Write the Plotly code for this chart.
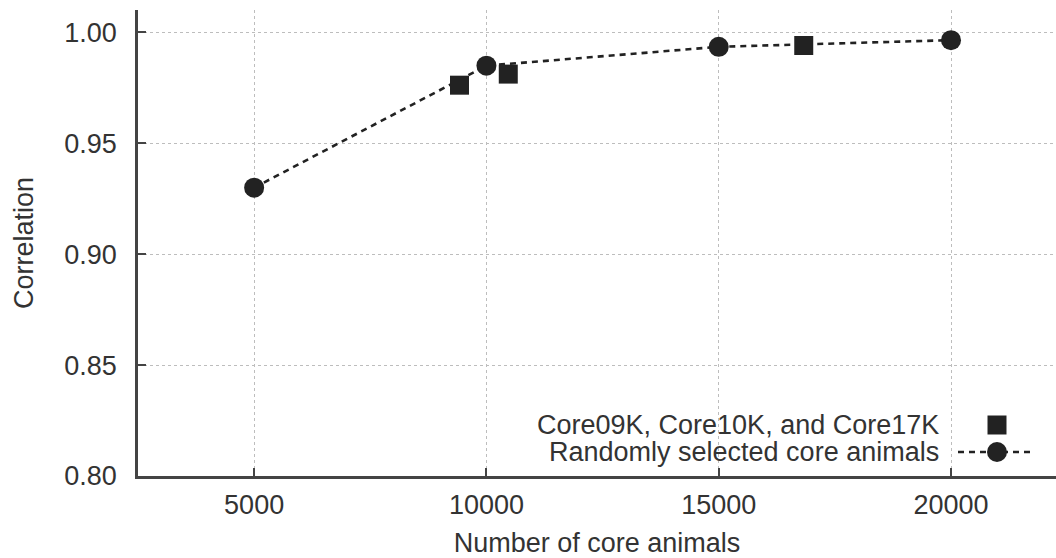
import plotly.graph_objects as go

# Data
random_n = [5000, 10000, 15000, 20000]
random_corr = [0.930, 0.985, 0.9935, 0.9965]

core_names = ["Core09K", "Core10K", "Core17K"]
core_n = [9420, 10470, 16830]
core_corr = [0.9762, 0.9812, 0.9941]

x_ticks = [5000, 10000, 15000, 20000]
y_ticks = [0.80, 0.85, 0.90, 0.95, 1.00]
y_ticklabels = ["0.80", "0.85", "0.90", "0.95", "1.00"]

legend_labels = ["Core09K, Core10K, and Core17K", "Randomly selected core animals"]

FONT = "Liberation Sans, Arial, Helvetica, sans-serif"
TXT = "#333333"
AX = "#444444"
FS = 27

fig = go.Figure()

fig.add_trace(go.Scatter(
    x=random_n, y=random_corr, mode="lines+markers",
    line=dict(color="#222222", width=2.6, dash="6px,5px"),
    marker=dict(symbol="circle", size=20, color="#222222"),
    showlegend=False, name=legend_labels[1],
))
fig.add_trace(go.Scatter(
    x=core_n, y=core_corr, mode="markers", text=core_names,
    marker=dict(symbol="square", size=19, color="#222222"),
    showlegend=False, name=legend_labels[0],
))

L, R, T, B = 138, 0, 10, 82
W, H = 1056, 558
pw, ph = W - L - R, H - T - B


def px2paper_x(px):
    return (px - L) / pw


def px2paper_y(py):
    return (H - B - py) / ph


row_y = [425, 452]
text_right = 941
sym_x = 997

annotations = []
for lab, yy in zip(legend_labels, row_y):
    annotations.append(dict(
        x=px2paper_x(text_right), y=px2paper_y(yy), xref="paper", yref="paper",
        text=lab, showarrow=False, xanchor="right", yanchor="middle",
        font=dict(family=FONT, size=FS, color=TXT),
    ))

shapes = [
    # legend dashed line
    dict(type="line", xref="paper", yref="paper",
         x0=px2paper_x(958), x1=px2paper_x(1035),
         y0=px2paper_y(row_y[1]), y1=px2paper_y(row_y[1]),
         line=dict(color="#222222", width=2.6, dash="6px,5px"), layer="above"),
    # legend square
    dict(type="rect", xref="paper", yref="paper",
         xsizemode="pixel", ysizemode="pixel",
         xanchor=px2paper_x(sym_x), yanchor=px2paper_y(row_y[0]),
         x0=-9.5, x1=9.5, y0=-9.5, y1=9.5,
         fillcolor="#222222", line=dict(width=0), layer="above"),
    # legend circle
    dict(type="circle", xref="paper", yref="paper",
         xsizemode="pixel", ysizemode="pixel",
         xanchor=px2paper_x(sym_x), yanchor=px2paper_y(row_y[1]),
         x0=-10, x1=10, y0=-10, y1=10,
         fillcolor="#222222", line=dict(width=0), layer="above"),
]

fig.update_layout(
    width=W, height=H,
    margin=dict(l=L, r=R, t=T, b=B, pad=0, autoexpand=False),
    paper_bgcolor="white", plot_bgcolor="white",
    font=dict(family=FONT, size=FS, color=TXT),
    annotations=annotations, shapes=shapes,
    xaxis=dict(
        range=[2500, 22260], tickvals=x_ticks, ticktext=[str(v) for v in x_ticks],
        showline=True, linecolor=AX, linewidth=2.5, mirror=False,
        ticks="inside", ticklen=8, tickwidth=1.5, tickcolor=AX,
        showgrid=True, gridcolor="#bdbdbd", gridwidth=1, griddash="dot",
        zeroline=False, ticklabelstandoff=3, automargin=False,
        title=dict(text="Number of core animals", standoff=26,
                   font=dict(family=FONT, size=FS, color=TXT)),
        tickfont=dict(family=FONT, size=FS, color=TXT),
    ),
    yaxis=dict(
        range=[0.80, 1.0101], tickvals=y_ticks, ticktext=y_ticklabels,
        showline=True, linecolor=AX, linewidth=2.5, mirror=False,
        ticks="inside", ticklen=8, tickwidth=1.5, tickcolor=AX,
        showgrid=True, gridcolor="#bdbdbd", gridwidth=1, griddash="dot",
        zeroline=False, ticklabelstandoff=13, automargin=False,
        title=dict(text="Correlation", standoff=23,
                   font=dict(family=FONT, size=FS, color=TXT)),
        tickfont=dict(family=FONT, size=FS, color=TXT),
    ),
)

fig.write_html("out.html", config={"displayModeBar": False},
               post_script="document.body.style.margin='0';")
